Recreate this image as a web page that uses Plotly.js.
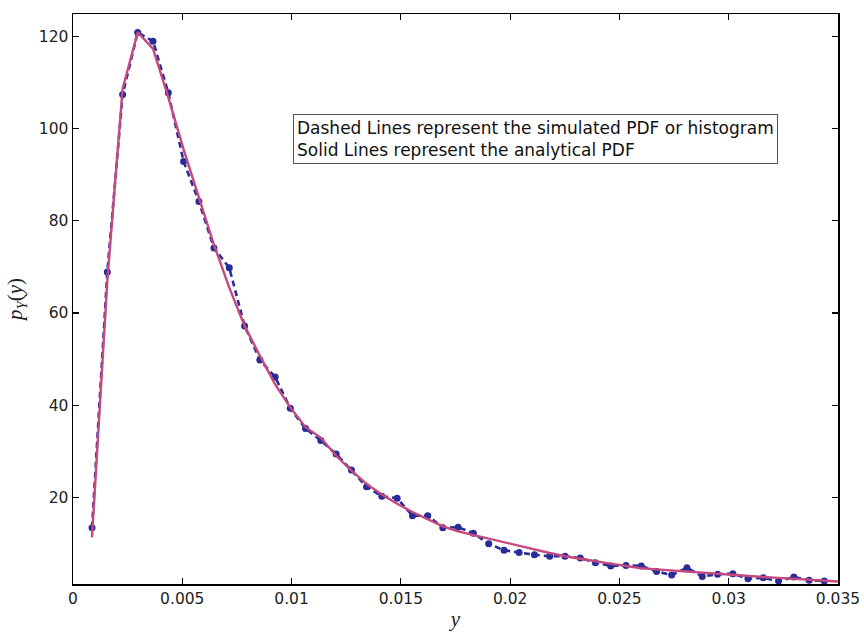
<!DOCTYPE html>
<html>
<head>
<meta charset="utf-8">
<script src="https://cdn.plot.ly/plotly-3.0.1.min.js"></script>
<style>html,body{margin:0;padding:0;background:#fff;}#chart{width:864px;height:632px;}</style>
</head>
<body>
<div id="chart"></div>
<script>
// bin centres of the simulated histogram
const binCenters = [0.00087,0.00157,0.00227,0.00296,0.00366,0.00436,0.00506,0.00576,0.00645,0.00715,
  0.00785,0.00855,0.00925,0.00994,0.01064,0.01134,0.01204,0.01274,0.01343,0.01413,
  0.01483,0.01553,0.01623,0.01692,0.01762,0.01832,0.01902,0.01972,0.02041,0.02111,
  0.02181,0.02251,0.02321,0.02390,0.02460,0.02530,0.02600,0.02670,0.02739,0.02809,
  0.02879,0.02949,0.03019,0.03088,0.03158,0.03228,0.03298,0.03368,0.03437];
// simulated PDF (histogram) values
const simulatedPdf = [13.4,68.9,107.4,120.9,119.0,107.8,92.9,84.2,74.1,69.8,
  57.2,49.8,46.1,39.3,34.9,32.3,29.4,25.9,22.3,20.2,
  19.8,16.0,16.0,13.4,13.5,12.2,9.9,8.5,8.0,7.5,
  7.2,7.2,6.8,5.8,5.1,5.2,5.1,3.9,3.1,4.7,
  2.8,3.3,3.4,2.3,2.5,1.8,2.7,2.0,1.8];
// analytical PDF evaluation points and values
const analyticX = binCenters.concat([0.035]);
const analyticPdf = [11.3,67.0,108.7,120.9,117.4,106.8,95.5,85.3,74.8,65.5,
  57.2,50.7,44.5,39.5,35.2,32.9,29.0,25.8,22.9,20.6,
  18.6,16.8,15.2,13.7,12.6,11.8,11.1,10.3,9.4,8.6,
  7.9,7.2,6.6,6.1,5.6,5.1,4.6,4.35,4.1,3.85,
  3.6,3.35,3.15,2.9,2.7,2.5,2.3,2.1,1.9,1.7];
const xTickVals = [0,0.005,0.01,0.015,0.02,0.025,0.03,0.035];
const xTickText = ['0','0.005','0.01','0.015','0.02','0.025','0.03','0.035'];
const yTickVals = [20,40,60,80,100,120];
const yTickText = ['20','40','60','80','100','120'];
const noteLines = ['Dashed Lines represent the simulated PDF or histogram','Solid Lines represent the analytical PDF'];

const traces = [
  {x: binCenters, y: simulatedPdf, type:'scatter', mode:'lines+markers',
   line:{color:'#282c98', width:2.6, dash:'6px,4px'},
   marker:{color:'#282c98', size:7}, hoverinfo:'skip', showlegend:false},
  {x: analyticX, y: analyticPdf, type:'scatter', mode:'lines',
   line:{color:'#c5487f', width:2.4}, hoverinfo:'skip', showlegend:false}
];

const axisCommon = {showgrid:false, zeroline:false, showline:true, linecolor:'#000', linewidth:1.5,
  mirror:'ticks', ticks:'inside', ticklen:6, tickwidth:1.2, tickcolor:'#000',
  tickfont:{family:'DejaVu Sans, Liberation Sans, sans-serif', size:15.5, color:'#222'}};

const layout = {
  width:864, height:632,
  margin:{l:73, r:26, t:14, b:48, pad:0},
  paper_bgcolor:'#fff', plot_bgcolor:'#fff',
  xaxis: Object.assign({}, axisCommon, {range:[0,0.035], tickvals:xTickVals, ticktext:xTickText,
    title:{text:'<i>y</i>', font:{family:'Liberation Serif, DejaVu Serif, serif', size:21, color:'#222'}, standoff:4}}),
  yaxis: Object.assign({}, axisCommon, {range:[1.17,124.9], tickvals:yTickVals, ticktext:yTickText,
    title:{text:'<i>p</i><sub><i>Y</i></sub>(<i>y</i>)', font:{family:'Liberation Serif, DejaVu Serif, serif', size:21, color:'#222'}, standoff:10}}),
  annotations:[{xref:'paper', yref:'paper', x:0.288, y:0.8245, xanchor:'left', yanchor:'top',
    text: noteLines.join('<br>'), align:'left', showarrow:false,
    font:{family:'DejaVu Sans, Liberation Sans, sans-serif', size:17, color:'#111'},
    bordercolor:'#555', borderwidth:1, borderpad:3, bgcolor:'#fff'}]
};

Plotly.newPlot('chart', traces, layout, {staticPlot:true, displayModeBar:false});
</script>
</body>
</html>
